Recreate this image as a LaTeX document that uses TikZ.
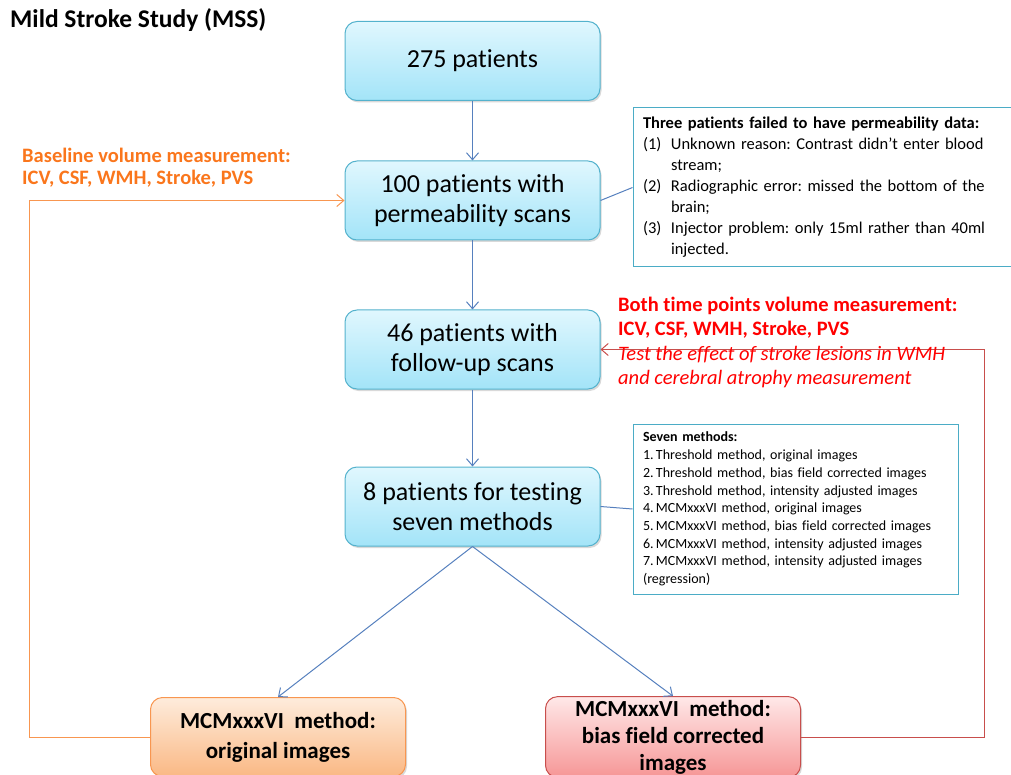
\documentclass[tikz,border=0pt]{standalone}
\usepackage{fontspec}
\setmainfont[Ligatures=NoCommon]{Carlito}
\usetikzlibrary{arrows.meta,shadows}

\definecolor{boxtop}{RGB}{224,247,254}
\definecolor{boxbot}{RGB}{163,228,248}
\definecolor{boxline}{RGB}{84,178,205}
\definecolor{flowblue}{RGB}{86,128,190}
\definecolor{noteline}{RGB}{75,172,198}
\definecolor{orangetxt}{RGB}{250,118,28}
\definecolor{orangeline}{RGB}{248,150,80}
\definecolor{orangetop}{RGB}{254,236,220}
\definecolor{orangebot}{RGB}{250,184,132}
\definecolor{redtop}{RGB}{255,232,232}
\definecolor{redbot}{RGB}{246,150,150}
\definecolor{redline}{RGB}{200,78,76}
\definecolor{redtxt}{RGB}{255,0,0}

\tikzset{
  stagebox/.style={rounded corners=12pt, draw=boxline, line width=1pt,
    top color=boxtop, bottom color=boxbot,
    minimum width=255pt, minimum height=79pt, align=center,
    font=\fontsize{26}{30}\selectfont,
    drop shadow={shadow xshift=1.5pt,shadow yshift=-2pt,opacity=0.25,fill=black!60}},
  origbox/.style={stagebox, draw=orangeline, top color=orangetop, bottom color=orangebot,
    font=\bfseries\fontsize{23}{30}\selectfont},
  corrbox/.style={stagebox, draw=redline, top color=redtop, bottom color=redbot,
    font=\bfseries\fontsize{23}{27}\selectfont},
  notebox/.style={draw=noteline, line width=1pt, fill=white, align=left, inner xsep=10pt},
  flow/.style={draw=flowblue, line width=1pt, -{Straight Barb[length=7pt,width=12pt]}},
  feed/.style={line width=1pt, -{Straight Barb[length=7pt,width=12pt]}},
}

\begin{document}
\frenchspacing
\begin{tikzpicture}[x=1pt,y=-1pt]
\useasboundingbox (0,0) rectangle (1011,775);

% title
\node[anchor=west, inner sep=0pt, font=\bfseries\fontsize{25.5}{28}\selectfont] (title) at (10,20) {Mild Stroke Study (MSS)};

% main flow
\node[stagebox] (b1) at (472.5,61) {275 patients};
\node[stagebox] (b2) at (472.5,200.5) {100 patients with\\permeability scans};
\node[stagebox] (b3) at (472.5,349.5) {46 patients with\\follow-up scans};
\node[stagebox] (b4) at (472.5,506.5) {8 patients for testing\\seven methods};
\node[origbox] (b5) at (278,737) {MCMxxxVI\ \ method:\\original images};
\node[corrbox] (b6) at (673,737) {MCMxxxVI\ \ method:\\bias field corrected\\images};

\draw[flow] (b1.south) -- (b2.north);
\draw[flow] (b2.south) -- (b3.north);
\draw[flow] (b3.south) -- (b4.north);
\draw[flow] (b4.south) -- (b5.north);
\draw[flow] (b4.south) -- (b6.north);

% notes
\node[notebox, minimum width=378pt, minimum height=159pt, text width=358pt,
      font=\fontsize{16.5}{21}\selectfont] (n1) at (822,187.5)
  {\textbf{Three patients failed to have permeability data:}\\
   \makebox[28pt][l]{(1)}Unknown reason: Contrast didn't enter blood\\
   \hspace*{28pt}stream;\\
   \makebox[28pt][l]{(2)}Radiographic error: missed the bottom of the\\
   \hspace*{28pt}brain;\\
   \makebox[28pt][l]{(3)}Injector problem: only 15ml rather than 40ml\\
   \hspace*{28pt}injected.};
\node[notebox, minimum width=325pt, minimum height=170pt, text width=305pt,
      font=\fontsize{14}{17.7}\selectfont] (n2) at (795.5,509)
  {\textbf{Seven methods:}\\
   1.\,Threshold method, original images\\
   2.\,Threshold method, bias field corrected images\\
   3.\,Threshold method, intensity adjusted images\\
   4.\,MCMxxxVI method, original images\\
   5.\,MCMxxxVI method, bias field corrected images\\
   6.\,MCMxxxVI method, intensity adjusted images\\
   7.\,MCMxxxVI method, intensity adjusted images\\
   (regression)};
\draw[draw=flowblue, line width=1pt] (b2.east) -- (n1.west);
\draw[draw=flowblue, line width=1pt] (b4.east) -- (n2.west);

% feedback loops
\draw[feed, draw=orangeline] (b5.west) -- ++(-121,0) coordinate (oc) |- (b2.west);
\draw[feed, draw=redline] (b6.east) -- ++(183,0) coordinate (rc) |- (b3.east);

\node[anchor=north west, align=left, text=orangetxt, inner sep=0pt,
      font=\bfseries\fontsize{20.5}{22}\selectfont] (ol) at (22,148)
  {Baseline volume measurement:\\ICV, CSF, WMH, Stroke, PVS};
\node[anchor=north west, align=left, text=redtxt, inner sep=0pt,
      font=\fontsize{20.5}{24.3}\selectfont] (rl) at (618,297)
  {\textbf{Both time points volume measurement:}\\
   \textbf{ICV, CSF, WMH, Stroke, PVS}\\
   \textit{Test the effect of stroke lesions in WMH}\\
   \textit{and cerebral atrophy measurement}};
\end{tikzpicture}
\end{document}
